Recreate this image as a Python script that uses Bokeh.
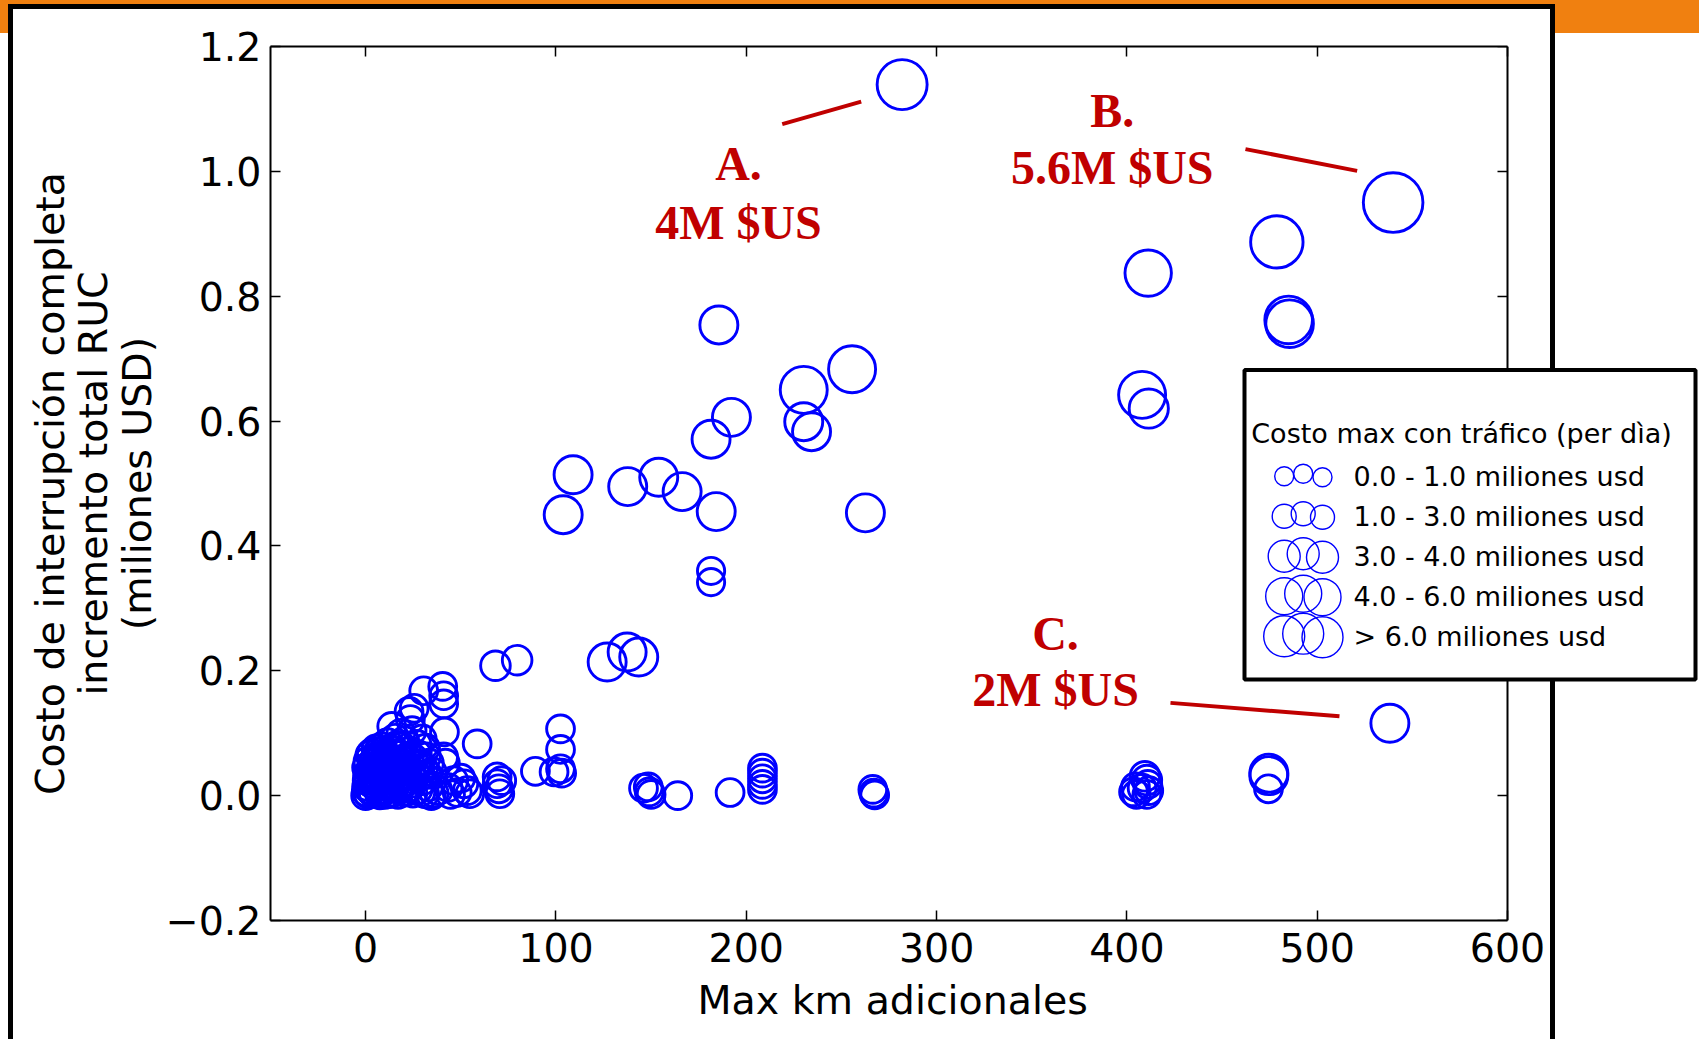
from bokeh.plotting import figure
from bokeh.models import Range1d, LinearAxis, FixedTicker, BoxAnnotation, Label, Title, ColumnDataSource
from bokeh.embed import file_html
from bokeh.resources import INLINE

# ---------------- data ----------------
# max additional km, total RUC cost increase (million USD), max cost with traffic (million USD / day)
x_km = [
    281.9, 539.9, 478.8, 411.2, 485.0, 485.5, 408.0, 411.5,
    185.6, 255.6, 230.2, 192.2, 230.2, 234.3, 181.5, 109.0, 103.8, 137.7, 154.0, 166.3, 184.2, 262.6,
    181.5, 181.5, 126.9, 137.4, 143.5, 68.2, 79.6, 538.2,
    474.6, 474.6, 474.4,
    403.5, 404.5, 405.0, 409.5, 410.5, 411.0, 411.5, 410.5, 408.0,
    266.5, 267.0, 267.5,
    208.5, 208.5, 208.5, 208.5, 208.5,
    191.5, 164.0, 146.0, 148.5, 149.0, 150.0,
    102.4, 102.4, 102.4, 99.0, 103.0, 89.2,
    69.1, 69.1, 70.0, 70.5, 71.5,
]
y_musd = [
    1.139, 0.950, 0.887, 0.837, 0.762, 0.756, 0.642, 0.620,
    0.754, 0.683, 0.650, 0.606, 0.599, 0.583, 0.571, 0.514, 0.450, 0.495, 0.510, 0.487, 0.455, 0.453,
    0.360, 0.342, 0.214, 0.230, 0.222, 0.208, 0.217, 0.116,
    0.036, 0.032, 0.011,
    0.006, 0.014, 0.002, 0.031, 0.025, 0.018, 0.008, 0.002, 0.012,
    0.010, 0.004, 0.001,
    0.044, 0.036, 0.027, 0.018, 0.010,
    0.005, 0.000, 0.012, 0.014, 0.006, 0.002,
    0.107, 0.074, 0.043, 0.038, 0.036, 0.039,
    0.030, 0.019, 0.011, 0.003, 0.024,
]
traffic_cost = [
    4.0, 5.6, 4.4, 3.4, 3.6, 3.6, 3.5, 2.2,
    2.0, 3.5, 3.5, 2.0, 2.0, 2.0, 2.0, 2.0, 2.0, 2.0, 2.0, 2.0, 2.0, 2.0,
    0.2, 0.2, 2.0, 2.0, 2.0, 0.6, 0.6, 2.0,
    2.0, 2.0, 0.3,
    0.3, 0.3, 0.3, 0.6, 0.6, 0.3, 0.3, 0.3, 0.3,
    0.3, 0.3, 0.3,
    0.3, 0.3, 0.3, 0.3, 0.3,
    0.3, 0.3, 0.3, 0.3, 0.3, 0.3,
    0.3, 0.3, 0.3, 0.3, 0.3, 0.3,
    0.3, 0.3, 0.3, 0.3, 0.3,
]

# dense group of short detours near the origin
near_x = [
    0.0, 0.3, 0.5, 0.8, 1.0, 1.5, 2.0, 2.5, 3.0, 3.5, 4.0, 4.5, 5.0, 5.5, 6.0, 6.5, 7.0, 7.5,
    8.0, 8.5, 9.0, 9.5, 10.0, 10.5, 11.0, 11.5, 12.0, 12.5, 13.0, 13.7, 14.0, 14.5, 15.0, 15.5,
    16.0, 16.5, 17.0, 17.5, 18.0, 18.5, 19.0, 19.5, 20.0, 20.5, 21.0, 21.5, 22.0, 22.8, 23.5,
    24.0, 24.4, 25.0, 25.5, 26.0, 27.0, 27.5, 28.5, 29.7, 30.0, 30.5, 31.0, 32.0, 33.0, 34.5,
    35.0, 36.0, 38.0, 40.5, 41.0, 41.0, 41.4, 41.0, 41.9, 43.3, 44.6, 46.3, 48.1, 50.0, 51.6,
    53.4, 54.7, 58.6, 3.0, 5.5,
    0.5, 1.2, 2.2, 1.8, 2.8, 3.8, 4.2, 4.8, 5.8, 6.2, 6.8, 7.2, 7.8, 8.2, 8.8, 9.2, 9.8, 10.2,
    10.8, 11.2, 11.8, 12.2, 12.8, 13.2, 13.8, 14.2, 14.8, 15.2, 15.8, 16.2, 16.8, 17.2, 17.8, 18.2,
    18.8, 19.2, 19.8, 20.2, 20.8, 21.2, 21.8, 22.2, 23.0, 23.8, 24.8, 25.2, 26.5, 27.2, 28.0, 29.0,
    30.5, 31.5, 32.5, 33.5,
]
near_y = [
    0.000, 0.006, 0.015, 0.024, 0.033, 0.002, 0.010, 0.042, 0.020, 0.052, 0.004, 0.030, 0.060, 0.014, 0.040, 0.070, 0.022, 0.001,
    0.050, 0.078, 0.032, 0.009, 0.062, 0.044, 0.018, 0.085, 0.003, 0.056, 0.034, 0.111, 0.072, 0.012, 0.047, 0.092,
    0.026, 0.065, 0.002, 0.080, 0.040, 0.100, 0.016, 0.058, 0.030, 0.088, 0.006, 0.070, 0.045, 0.135, 0.122,
    0.020, 0.104, 0.060, 0.140, 0.035, 0.082, 0.010, 0.050, 0.091, 0.024, 0.168, 0.003, 0.062, 0.014, 0.000,
    0.038, 0.004, 0.008, 0.175, 0.160, 0.147, 0.102, 0.062, 0.052, 0.013, 0.002, 0.024, 0.005, 0.028, 0.019,
    0.008, 0.003, 0.083, 0.068, 0.075,
    0.045, 0.055, 0.065, 0.028, 0.008, 0.036, 0.018, 0.046, 0.024, 0.055, 0.008, 0.040, 0.062, 0.016, 0.030, 0.072, 0.048, 0.002,
    0.026, 0.064, 0.040, 0.014, 0.074, 0.050, 0.004, 0.030, 0.066, 0.018, 0.054, 0.080, 0.038, 0.010, 0.066, 0.028,
    0.050, 0.078, 0.006, 0.044, 0.022, 0.060, 0.032, 0.012, 0.056, 0.040, 0.004, 0.026, 0.048, 0.066, 0.030, 0.006,
    0.044, 0.076, 0.034, 0.052,
]
near_cost = [
    0.3, 0.3, 0.3, 0.3, 0.3, 0.3, 0.3, 0.3, 0.3, 0.3, 0.3, 0.3, 0.3, 0.3, 0.3, 0.3, 0.3, 0.3,
    0.3, 0.3, 0.3, 0.3, 0.3, 0.3, 0.3, 0.3, 0.3, 0.3, 0.3, 0.3, 0.3, 0.3, 0.3, 0.3,
    0.3, 0.3, 0.3, 0.3, 0.3, 0.3, 0.3, 0.3, 0.3, 0.3, 0.3, 0.3, 0.3, 0.3, 0.3,
    0.3, 0.3, 0.3, 0.3, 0.3, 0.3, 0.3, 0.3, 0.3, 0.3, 0.3, 0.3, 0.3, 0.3, 0.3,
    0.3, 0.3, 0.3, 0.3, 0.3, 0.3, 0.3, 0.3, 0.3, 0.3, 0.3, 0.3, 0.3, 0.3, 0.3,
    0.3, 0.3, 0.3, 0.3, 0.3,
    0.3, 0.3, 0.3, 0.3, 0.3, 0.3, 0.3, 0.3, 0.3, 0.3, 0.3, 0.3, 0.3, 0.3, 0.3, 0.3, 0.3, 0.3,
    0.3, 0.3, 0.3, 0.3, 0.3, 0.3, 0.3, 0.3, 0.3, 0.3, 0.3, 0.3, 0.3, 0.3, 0.3, 0.3,
    0.3, 0.3, 0.3, 0.3, 0.3, 0.3, 0.3, 0.3, 0.3, 0.3, 0.3, 0.3, 0.3, 0.3, 0.3, 0.3,
    0.3, 0.3, 0.3, 0.3,
]

x_ticks = [0, 100, 200, 300, 400, 500, 600]
y_ticks = [-0.2, 0.0, 0.2, 0.4, 0.6, 0.8, 1.0, 1.2]
y_tick_labels = ["\u22120.2", "0.0", "0.2", "0.4", "0.6", "0.8", "1.0", "1.2"]

x_title = "Max km adicionales"
y_title = "Costo de interrupción completa\nincremento total RUC\n(miliones USD)"

legend_title = "Costo max con tráfico (per dìa)"
legend_labels = [
    "0.0 - 1.0 miliones usd",
    "1.0 - 3.0 miliones usd",
    "3.0 - 4.0 miliones usd",
    "4.0 - 6.0 miliones usd",
    "> 6.0 miliones usd",
]

# callouts: label lines and leader segments (data coordinates)
ann_head = ["A.", "B.", "C."]
ann_value = ["4M $US", "5.6M $US", "2M $US"]
ann_text_x = [195.9, 392.3, 362.5]
ann_head_y = [1.012, 1.097, 0.2595]
ann_value_y = [0.918, 1.006, 0.170]
ann_x0 = [218.9, 462.3, 422.9]
ann_y0 = [1.0756, 1.0356, 0.1486]
ann_x1 = [260.4, 521.0, 511.7]
ann_y1 = [1.1118, 1.0008, 0.1271]

# ---------------- layout ----------------
W, H = 1699, 1039
FL, FT, FB = 270, 46, 920          # frame edges in canvas px (frame reaches the right edge)
X0, X1 = -50, 600                  # visible axis span
AX_RIGHT = 1507                    # canvas px of x = 600
X_END = X1 + (W - AX_RIGHT) * (X1 - X0) / (AX_RIGHT - FL)
FONT = "DejaVu Sans"
FS = "39.5px"
BLUE = "#0000ff"
RED = "#c00000"


def sx(page_x):  # page px -> frame-relative screen x
    return page_x - FL


def sy(page_y):  # page px -> frame-relative screen y (upwards)
    return FB - page_y


bg_layers = [
    "linear-gradient(#000,#000) 1550px 4px / 5px 1100px no-repeat",
    "linear-gradient(#000,#000) 8px 4px / 5px 1100px no-repeat",
    "linear-gradient(#000,#000) 8px 4px / 1547px 5px no-repeat",
    "linear-gradient(#fff,#fff) 8px 4px / 1547px 1100px no-repeat",
    "linear-gradient(#f08010,#f08010) 0px 0px / 100% 33px no-repeat",
    "#ffffff",
]

p = figure(width=W, height=H, output_backend="svg", toolbar_location=None,
           x_range=Range1d(X0, X_END), y_range=Range1d(-0.2, 1.2),
           min_border_left=FL, min_border_right=0,
           min_border_top=FT, min_border_bottom=H - FB)
p.styles = {"background": ", ".join(bg_layers)}
p.background_fill_color = None
p.border_fill_color = None
p.outline_line_color = None
p.xgrid.visible = False
p.ygrid.visible = False

all_x = x_km + near_x
all_y = y_musd + near_y
all_cost = traffic_cost + near_cost
src = ColumnDataSource(dict(x=all_x, y=all_y, size=[26 + 6 * c for c in all_cost]))
p.scatter("x", "y", size="size", source=src, marker="circle", fill_color=None,
          line_color=BLUE, line_width=2.9)

# callouts
p.segment(x0=ann_x0, y0=ann_y0, x1=ann_x1, y1=ann_y1, line_color=RED, line_width=4)
for i in range(len(ann_head)):
    for txt, yy in ((ann_head[i], ann_head_y[i]), (ann_value[i], ann_value_y[i])):
        p.add_layout(Label(x=ann_text_x[i], y=yy, text=txt, text_align="center", text_baseline="middle",
                           text_font="Liberation Serif", text_font_style="bold", text_font_size="48px",
                           text_color=RED))

# axes
for ax in (p.xaxis[0], p.yaxis[0]):
    ax.major_label_text_font = FONT
    ax.major_label_text_font_size = FS
    ax.major_label_text_color = "black"
    ax.axis_label_text_font = FONT
    ax.axis_label_text_font_size = FS
    ax.axis_label_text_font_style = "normal"
    ax.axis_label_text_color = "black"
    ax.major_tick_in = 10
    ax.major_tick_out = 0
    ax.minor_tick_line_color = None
    ax.axis_line_width = 2
    ax.major_tick_line_width = 1.5

p.xaxis[0].ticker = FixedTicker(ticks=x_ticks)
p.xaxis[0].bounds = (X0, X1)
p.xaxis[0].major_label_standoff = 12
p.yaxis[0].ticker = FixedTicker(ticks=y_ticks)
p.yaxis[0].major_label_overrides = {t: l for t, l in zip(y_ticks, y_tick_labels)}
p.yaxis[0].major_label_standoff = 9
p.yaxis[0].axis_label = y_title
p.yaxis[0].axis_label_text_line_height = 0.94
p.yaxis[0].axis_label_standoff = 3

# x-axis title, centred under the visible axis span (the frame runs on to the right edge)
p.add_layout(Title(text=x_title, align="left", offset=427, vertical_align="middle", standoff=22,
                   text_font=FONT, text_font_size=FS, text_font_style="normal", text_color="black"),
             "below")


def bare_axis(ticks, **kw):
    return LinearAxis(ticker=FixedTicker(ticks=ticks), major_label_overrides={t: "" for t in ticks},
                      major_label_text_font_size="1px", major_label_standoff=0,
                      minor_tick_line_color=None, axis_line_width=2, major_tick_line_width=1.5, **kw)


# top spine (ticks pointing down) and right spine at x = 600 (ticks pointing left)
p.add_layout(bare_axis(x_ticks, bounds=(X0, X1), major_tick_in=10, major_tick_out=0), "above")
p.add_layout(bare_axis(y_ticks, fixed_location=X1, major_tick_in=0, major_tick_out=10), "left")

# legend box drawn manually (three circles per size class)
p.add_layout(BoxAnnotation(left=sx(1244), right=sx(1695), top=sy(369.5), bottom=sy(679),
                           left_units="screen", right_units="screen", top_units="screen", bottom_units="screen",
                           fill_color="white", fill_alpha=1, line_color="black", line_alpha=1, line_width=4))
p.extra_x_ranges = {"px": Range1d(0, W - FL)}
p.extra_y_ranges = {"px": Range1d(0, FB - FT)}
key_sizes = [19, 24, 32, 37, 41]
key_cx = [1283.7, 1302.7, 1322.0]
key_dy = [0.0, -2.5, 1.0]
kx, ky, ks = [], [], []
for i, s in enumerate(key_sizes):
    row_y = 475.7 + 40 * i
    for cx, dy in zip(key_cx, key_dy):
        kx.append(sx(cx))
        ky.append(sy(row_y + dy))
        ks.append(s)
p.scatter(kx, ky, size=ks, marker="circle", fill_color=None, line_color=BLUE, line_width=1.4,
          x_range_name="px", y_range_name="px", level="overlay")
p.add_layout(Label(x=sx(1461), y=sy(433.3), text=legend_title, x_units="screen", y_units="screen",
                   text_align="center", text_baseline="middle", text_font=FONT, text_font_size="27px",
                   text_color="black"))
for i, lab in enumerate(legend_labels):
    p.add_layout(Label(x=sx(1353), y=sy(475.7 + 40 * i), text=lab, x_units="screen", y_units="screen",
                       text_align="left", text_baseline="middle", text_font=FONT, text_font_size="27px",
                       text_color="black"))

open("out.html", "w").write(file_html(p, INLINE))
